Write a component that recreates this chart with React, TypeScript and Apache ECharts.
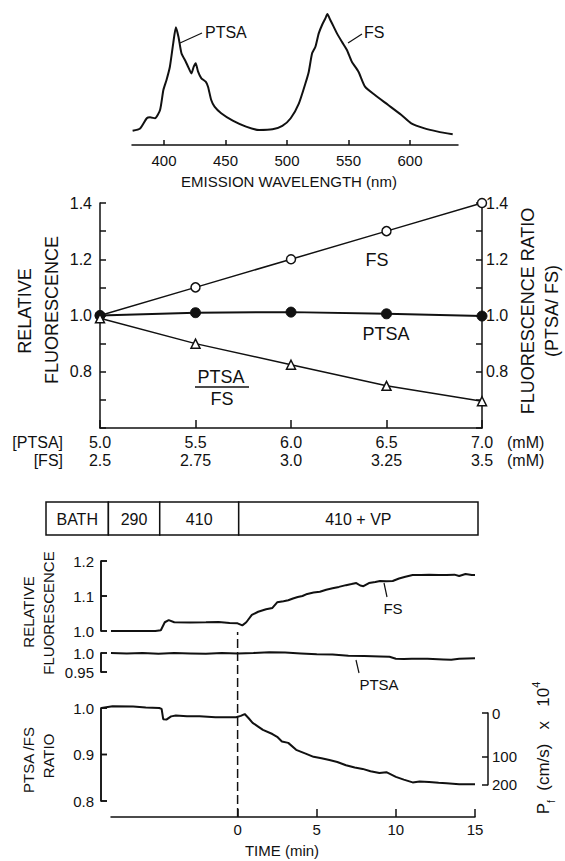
import React, { useEffect, useRef } from "react";
import * as echarts from "echarts";

const FONT = '"Liberation Sans", Arial, sans-serif';
const INK = "#111";

// ---------- Top: emission spectrum ----------
const wavelength = [374.5, 380.6, 386, 388.7, 392.7, 396.8, 399.5, 402, 404.8, 407.5, 409.7, 411.8, 414.2, 417.7, 419.6, 422.3, 424.2, 425.8, 427.7, 430.4, 433.9, 435.8, 438.4, 441.1, 446.5, 455.9, 466.7, 477.4, 488.2, 496.2, 503, 509.7, 515, 517.7, 520.4, 523.1, 525.8, 528.5, 531.2, 532.8, 535.2, 537.9, 540.6, 544.6, 548.7, 552.7, 558.1, 563.4, 571.5, 582.3, 593, 601, 611.8, 622.6, 634.7];
const intensity = [0.106, 0.123, 0.198, 0.205, 0.198, 0.259, 0.407, 0.48, 0.58, 0.753, 0.872, 0.8, 0.68, 0.617, 0.58, 0.53, 0.58, 0.605, 0.543, 0.494, 0.469, 0.432, 0.333, 0.284, 0.235, 0.18, 0.136, 0.111, 0.116, 0.141, 0.198, 0.309, 0.457, 0.543, 0.679, 0.728, 0.827, 0.889, 0.938, 0.97, 0.926, 0.877, 0.827, 0.765, 0.704, 0.617, 0.543, 0.432, 0.37, 0.296, 0.222, 0.16, 0.123, 0.099, 0.079];
const wlTicks = [400, 450, 500, 550, 600];

// ---------- Middle: relative fluorescence vs concentration ----------
const ptsaMM = [5.0, 5.5, 6.0, 6.5, 7.0];
const fsMM = [2.5, 2.75, 3.0, 3.25, 3.5];
const fsRel = [1.0, 1.1, 1.2, 1.3, 1.4];
const ptsaRel = [1.0, 1.01, 1.012, 1.006, 0.998];
const ratioRel = [0.99, 0.9, 0.825, 0.75, 0.695];

// ---------- Bottom: time course ----------
const scheduleLabels = ["BATH", "290", "410", "410 + VP"];
const scheduleStart = [-12.2, -8.25, -5.0, 0];
const scheduleEnd = [-8.25, -5.0, 0, 15.15];

const fsTime = [-8, -6.5, -5.2, -4.85, -4.6, -4.35, -4.0, -3.0, -2.0, -1.2, -0.5, 0, 0.3, 0.55, 0.9, 1.3, 1.8, 2.2, 2.5, 2.9, 3.2, 3.5, 3.8, 4.1, 4.4, 4.8, 5.2, 5.6, 6.0, 6.4, 6.85, 7.2, 7.5, 7.75, 7.95, 8.3, 8.7, 9.0, 9.4, 9.8, 10.2, 10.6, 11.06, 11.6, 12.1, 12.7, 13.2, 13.7, 14.0, 14.4, 14.8, 15.0];
const fsTrace = [1.0, 1.0, 1.0, 1.002, 1.025, 1.031, 1.025, 1.024, 1.025, 1.026, 1.023, 1.022, 1.016, 1.025, 1.046, 1.055, 1.062, 1.066, 1.082, 1.085, 1.088, 1.093, 1.097, 1.1, 1.106, 1.11, 1.112, 1.118, 1.122, 1.126, 1.131, 1.134, 1.137, 1.13, 1.128, 1.137, 1.14, 1.143, 1.142, 1.143, 1.15, 1.155, 1.16, 1.16, 1.161, 1.16, 1.16, 1.161, 1.157, 1.163, 1.16, 1.16];

const ptsaTime = [-8, -7, -6, -5, -4, -3, -2, -1, 0, 1, 2, 3, 4, 5, 6, 7, 8, 9, 9.6, 10, 10.5, 11, 12, 13, 13.5, 14, 15];
const ptsaTrace = [1.0, 0.999, 1.0, 0.998, 1.0, 0.999, 0.998, 1.0, 0.999, 1.0, 1.002, 1.001, 0.999, 0.997, 0.996, 0.993, 0.992, 0.991, 0.99, 0.985, 0.984, 0.985, 0.985, 0.983, 0.982, 0.985, 0.986];

const ratioTime = [-8.6, -7.9, -6.6, -5.8, -4.95, -4.8, -4.7, -4.5, -4.2, -3.9, -3.2, -2.4, -1.4, -0.1, 0.2, 0.45, 0.7, 0.95, 1.3, 1.6, 2.2, 2.5, 2.8, 3.2, 3.7, 4.3, 4.8, 5.3, 5.8, 6.3, 6.85, 7.4, 7.9, 8.4, 8.96, 9.4, 10.0, 10.5, 11.06, 11.5, 12.1, 12.7, 13.2, 14, 15];
const ratioTrace = [1.0, 1.004, 1.003, 1.001, 1.0, 0.998, 0.976, 0.975, 0.982, 0.984, 0.982, 0.982, 0.98, 0.98, 0.983, 0.987, 0.978, 0.968, 0.96, 0.953, 0.944, 0.938, 0.928, 0.925, 0.91, 0.902, 0.895, 0.892, 0.888, 0.884, 0.877, 0.872, 0.869, 0.864, 0.86, 0.862, 0.852, 0.846, 0.84, 0.842, 0.841, 0.839, 0.838, 0.836, 0.836];

const fsAxisTicks = [1.0, 1.1, 1.2];
const ptsaAxisTicks = [0.95, 1.0];
const ratioAxisTicks = [0.8, 0.9, 1.0];
const pfTicks = [0, 100, 200];
const pfRatio = [0.989, 0.896, 0.835];
const timeTicks = [0, 5, 10, 15];

const zip = (a: number[], b: number[]) => a.map((v, i) => [v, b[i]]);

const axisLineStyle = { color: INK, width: 1.5 };
const lbl = (size: number, extra: any = {}) => ({ color: INK, fontSize: size, fontFamily: FONT, ...extra });

function txt(text: string, x: number, y: number, size: number, align = "center", rotation = 0, extra: any = {}) {
  return {
    type: "text",
    x,
    y,
    rotation,
    silent: true,
    style: {
      text,
      fill: INK,
      fontSize: size,
      fontFamily: FONT,
      align,
      textAlign: align,
      verticalAlign: "middle",
      textVerticalAlign: "middle",
      ...extra,
    },
  };
}
function ln(x1: number, y1: number, x2: number, y2: number, w = 1.2) {
  return { type: "line", silent: true, z: 50, shape: { x1, y1, x2, y2 }, style: { stroke: INK, lineWidth: w } };
}
function bar(x: number, y: number, width: number, height: number) {
  return { type: "rect", silent: true, z: 100, shape: { x, y, width, height }, style: { fill: INK } };
}

export default function App() {
  const ref = useRef<HTMLDivElement>(null);
  useEffect(() => {
    if (!ref.current) return;
    const chart = echarts.init(ref.current, undefined, { renderer: "svg" });

    const ratioTop = 708;
    const ratioH = 93;
    const pxPerRatio = ratioH / 0.2;
    const pfTop = ratioTop + (1.0 - pfRatio[0]) * pxPerRatio;
    const pfH = (pfRatio[0] - pfRatio[2]) * pxPerRatio;

    const midYFmt = (v: number) => {
      const k = Math.round(v * 10);
      return k % 2 === 0 && k >= 8 ? (k / 10).toFixed(1) : "";
    };
    const fmtMM = (v: number) => (Number.isInteger(v * 10) ? v.toFixed(1) : String(v));

    const hiddenX = (gridIndex: number, min: number, max: number) => ({ gridIndex, type: "value", min, max, show: false });
    const hiddenY = (gridIndex: number, min: number, max: number) => ({ gridIndex, type: "value", min, max, show: false });

    const yLine = () => ({ show: true, onZero: false, lineStyle: { color: INK, width: 1.5 } });
    const yTick = () => ({ show: true, inside: true, length: 6, lineStyle: { color: INK, width: 1.5 } });

    const traceLine = (xi: number, yi: number, data: number[][]) => ({
      type: "line",
      xAxisIndex: xi,
      yAxisIndex: yi,
      data,
      showSymbol: false,
      symbol: "none",
      clip: false,
      silent: true,
      lineStyle: { color: INK, width: 2 },
    });

    const plotLeft = 101;
    const fsBox = { top: 561, height: 70 };
    const ptsaBox = { top: 653, height: 19 };
    const ratioBox = { top: ratioTop, height: ratioH };

    // left bracket axes of the time-course panels
    const bracket = (box: { top: number; height: number }, ticks: number[], fmt: (v: number) => string) => {
      const lo = ticks[0];
      const hi = ticks[ticks.length - 1];
      const yOf = (v: number) => box.top + ((hi - v) / (hi - lo)) * box.height;
      const els: any[] = [
        ln(plotLeft, yOf(hi), plotLeft, yOf(lo), 1.5),
        bar(plotLeft - 0.75, yOf(hi) - 0.75, 1.5, yOf(lo) - yOf(hi) + 1.5),
      ];
      ticks.forEach((t) => {
        els.push(ln(plotLeft, yOf(t), plotLeft + 6, yOf(t), 1.5));
        els.push(bar(plotLeft, yOf(t) - 0.75, 6, 1.5));
        els.push(txt(fmt(t), plotLeft - 7, yOf(t), 15, "right"));
      });
      return els;
    };

    const graphic: any[] = [
      // spectrum annotations
      txt("PTSA", 205, 32, 16, "left"),
      ln(180, 43, 202, 33),
      txt("FS", 364, 32, 16, "left"),
      ln(348, 43, 362, 34),
      txt("EMISSION WAVELENGTH (nm)", 289, 181, 15),
      // middle chart annotations
      txt("FS", 377, 260, 18),
      txt("PTSA", 386, 334, 18),
      txt("PTSA", 221, 377, 18),
      ln(195, 387, 249, 387, 1.5),
      txt("FS", 222, 399, 18),
      txt("[PTSA]", 63, 442, 16, "right"),
      txt("[FS]", 63, 460, 16, "right"),
      txt("(mM)", 507, 442, 16, "left"),
      txt("(mM)", 507, 460, 16, "left"),
      txt("RELATIVE", 25, 311, 18, "center", Math.PI / 2),
      txt("FLUORESCENCE", 52, 310, 18, "center", Math.PI / 2),
      txt("FLUORESCENCE RATIO", 528, 311, 18, "center", Math.PI / 2),
      txt("(PTSA/ FS)", 552, 311, 18, "center", Math.PI / 2),
      // bottom axes
      ...bracket(fsBox, fsAxisTicks, (v) => v.toFixed(1)),
      ...bracket(ptsaBox, ptsaAxisTicks, (v) => (v >= 0.999 ? "1.0" : "0.95")),
      ...bracket(ratioBox, ratioAxisTicks, (v) => v.toFixed(1)),
      // bottom annotations
      txt("RELATIVE", 28, 612, 15, "center", Math.PI / 2),
      txt("FLUORESCENCE", 48, 613, 15, "center", Math.PI / 2),
      txt("PTSA /FS", 28, 760, 15, "center", Math.PI / 2),
      txt("RATIO", 48, 756, 15, "center", Math.PI / 2),
      txt("FS", 393, 608, 15),
      ln(384, 583, 387, 597),
      txt("PTSA", 379, 684, 15),
      ln(356, 660, 359, 673),
      txt("TIME (min)", 282, 850, 15),
      {
        type: "text",
        x: 543,
        y: 748,
        rotation: Math.PI / 2,
        silent: true,
        style: {
          text: "{n|P}{s|f}{n|  (cm/s)   x   10}{p|4}",
          fill: INK,
          fontFamily: FONT,
          fontSize: 16,
          align: "center",
          textAlign: "center",
          verticalAlign: "middle",
          textVerticalAlign: "middle",
          rich: {
            n: { fontSize: 17, fontFamily: FONT, fill: INK, lineHeight: 26, verticalAlign: "middle" },
            s: { fontSize: 10, fontFamily: FONT, fill: INK, lineHeight: 26, verticalAlign: "bottom" },
            p: { fontSize: 11, fontFamily: FONT, fill: INK, lineHeight: 26, verticalAlign: "top" },
          },
        },
      },
    ];

    const option: any = {
      animation: false,
      backgroundColor: "#fff",
      grid: [
        { left: 132, top: 10, width: 326, height: 135 }, // 0 spectrum
        { left: 100, top: 203, width: 382, height: 225 }, // 1 concentration
        { left: 46, top: 502, width: 432, height: 33 }, // 2 schedule
        { left: plotLeft, width: 374, ...fsBox }, // 3 FS trace
        { left: plotLeft, width: 374, ...ptsaBox }, // 4 PTSA trace
        { left: plotLeft, width: 374, ...ratioBox }, // 5 ratio trace
        { left: plotLeft, top: pfTop, width: 387, height: pfH }, // 6 Pf bracket
        { left: 111, top: 632, width: 364, height: 185 }, // 7 time axis + t=0 line
      ],
      xAxis: [
        {
          gridIndex: 0,
          type: "value",
          min: 374,
          max: 639,
          axisLine: { onZero: false, lineStyle: axisLineStyle },
          axisTick: { inside: true, length: 5, customValues: wlTicks, lineStyle: axisLineStyle },
          axisLabel: { customValues: wlTicks, margin: 8, ...lbl(15) },
          splitLine: { show: false },
        },
        {
          gridIndex: 1,
          type: "value",
          min: 5,
          max: 7,
          interval: 0.5,
          axisLine: { onZero: false, lineStyle: axisLineStyle },
          axisTick: { inside: true, length: 8, lineStyle: axisLineStyle },
          axisLabel: {
            margin: 5,
            lineHeight: 18,
            ...lbl(16),
            formatter: (v: number) => {
              const i = Math.round((v - ptsaMM[0]) / 0.5);
              return `${ptsaMM[i].toFixed(1)}\n${fmtMM(fsMM[i])}`;
            },
          },
          splitLine: { show: false },
        },
        hiddenX(2, scheduleStart[0], scheduleEnd[scheduleEnd.length - 1]),
        hiddenX(3, -8.63, 15),
        hiddenX(4, -8.63, 15),
        hiddenX(5, -8.63, 15),
        hiddenX(6, -8.63, 15),
        {
          gridIndex: 7,
          type: "value",
          min: -8,
          max: 15,
          axisLine: { onZero: false, lineStyle: axisLineStyle },
          axisTick: { inside: true, length: 8, customValues: timeTicks, lineStyle: axisLineStyle },
          axisLabel: { customValues: timeTicks, margin: 5, ...lbl(15) },
          splitLine: { show: false },
        },
      ],
      yAxis: [
        hiddenY(0, 0, 1), // 0
        {
          gridIndex: 1,
          type: "value",
          position: "left",
          min: 0.6,
          max: 1.4,
          interval: 0.1,
          axisLine: yLine(),
          axisTick: yTick(),
          axisLabel: { margin: 8, formatter: midYFmt, ...lbl(16) },
          splitLine: { show: false },
        }, // 1
        {
          gridIndex: 1,
          type: "value",
          position: "right",
          min: 0.6,
          max: 1.4,
          interval: 0.1,
          axisLine: yLine(),
          axisTick: yTick(),
          axisLabel: { margin: 4, formatter: midYFmt, ...lbl(16) },
          splitLine: { show: false },
        }, // 2
        hiddenY(2, 0, 1), // 3
        hiddenY(3, fsAxisTicks[0], fsAxisTicks[fsAxisTicks.length - 1]), // 4
        hiddenY(4, ptsaAxisTicks[0], ptsaAxisTicks[ptsaAxisTicks.length - 1]), // 5
        hiddenY(5, ratioAxisTicks[0], ratioAxisTicks[ratioAxisTicks.length - 1]), // 6
        {
          gridIndex: 6,
          type: "value",
          position: "right",
          min: pfRatio[2],
          max: pfRatio[0],
          axisLine: yLine(),
          axisTick: { ...yTick(), customValues: pfRatio },
          axisLabel: {
            margin: 4,
            customValues: pfRatio,
            formatter: (v: number) => {
              let best = 0;
              pfRatio.forEach((r, i) => {
                if (Math.abs(r - v) < Math.abs(pfRatio[best] - v)) best = i;
              });
              return String(pfTicks[best]);
            },
            ...lbl(15),
          },
          splitLine: { show: false },
        }, // 7
        hiddenY(7, 0, 1), // 8
      ],
      series: [
        {
          type: "line",
          xAxisIndex: 0,
          yAxisIndex: 0,
          data: zip(wavelength, intensity),
          showSymbol: false,
          symbol: "none",
          smooth: 0.2,
          silent: true,
          lineStyle: { color: INK, width: 2 },
        },
        {
          type: "line",
          xAxisIndex: 1,
          yAxisIndex: 1,
          data: zip(ptsaMM, fsRel),
          symbol: "circle",
          symbolSize: 9,
          silent: true,
          lineStyle: { color: INK, width: 1.5 },
          itemStyle: { color: "#fff", borderColor: INK, borderWidth: 1.5 },
        },
        {
          type: "line",
          xAxisIndex: 1,
          yAxisIndex: 1,
          data: zip(ptsaMM, ptsaRel),
          symbol: "circle",
          symbolSize: 10,
          silent: true,
          lineStyle: { color: INK, width: 2 },
          itemStyle: { color: INK, borderColor: INK, borderWidth: 1 },
        },
        {
          type: "line",
          xAxisIndex: 1,
          yAxisIndex: 1,
          data: zip(ptsaMM, ratioRel),
          symbol: "triangle",
          symbolSize: 9,
          silent: true,
          lineStyle: { color: INK, width: 1.5 },
          itemStyle: { color: "#fff", borderColor: INK, borderWidth: 1.5 },
        },
        {
          type: "custom",
          xAxisIndex: 2,
          yAxisIndex: 3,
          silent: true,
          clip: false,
          data: scheduleStart.map((s, i) => [s, scheduleEnd[i]]),
          encode: { x: [0, 1] },
          renderItem: (params: any, api: any) => {
            const a = api.coord([api.value(0), 1]);
            const b = api.coord([api.value(1), 0]);
            return {
              type: "group",
              children: [
                {
                  type: "rect",
                  shape: { x: a[0], y: a[1], width: b[0] - a[0], height: b[1] - a[1] },
                  style: { fill: "#fff", stroke: INK, lineWidth: 1.5 },
                },
                {
                  type: "text",
                  style: {
                    text: scheduleLabels[params.dataIndex],
                    x: (a[0] + b[0]) / 2,
                    y: (a[1] + b[1]) / 2 + 1,
                    align: "center",
                    verticalAlign: "middle",
                    textAlign: "center",
                    textVerticalAlign: "middle",
                    fontSize: 16,
                    fontFamily: FONT,
                    fill: INK,
                  },
                },
              ],
            };
          },
        },
        traceLine(3, 4, zip(fsTime, fsTrace)),
        traceLine(4, 5, zip(ptsaTime, ptsaTrace)),
        traceLine(5, 6, zip(ratioTime, ratioTrace)),
        { type: "line", xAxisIndex: 6, yAxisIndex: 7, data: [], silent: true },
        {
          type: "line",
          xAxisIndex: 7,
          yAxisIndex: 8,
          data: [
            [0, 0],
            [0, 1],
          ],
          showSymbol: false,
          symbol: "none",
          silent: true,
          lineStyle: { color: INK, width: 1.5, type: [9, 4] },
        },
      ],
      graphic,
    };

    chart.setOption(option);
    return () => chart.dispose();
  }, []);

  return (
    <div
      ref={ref}
      style={{ position: "fixed", left: 0, top: 0, width: 565, height: 861, background: "#fff" }}
    />
  );
}
